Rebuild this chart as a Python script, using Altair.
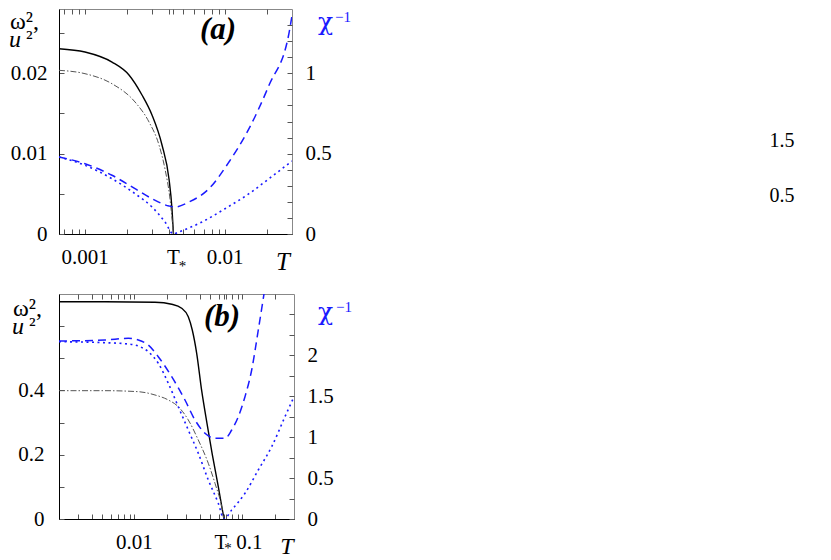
import altair as alt
import pandas as pd

FONT = "Liberation Serif"
BLUE = "#1a1aff"

# ---------------- panel (a) data ----------------
A_T_STAR = 0.00427
A_T_SOLID = [0.00065, 0.000997, 0.001554, 0.002055, 0.002545, 0.003, 0.003537, 0.003968, 0.004169, 0.00427]
A_W2_SOLID = [0.02306, 0.02265, 0.0214, 0.01979, 0.0173, 0.01481, 0.01108, 0.00684, 0.00311, 0.0]
A_T_DASHDOT = [0.00065, 0.000997, 0.001554, 0.002269, 0.002856, 0.003366, 0.003715, 0.004034, 0.00427]
A_U2_DASHDOT = [0.02037, 0.01995, 0.0187, 0.01643, 0.01394, 0.01108, 0.00809, 0.00436, 0.0]
A_T_DASHED = [0.00065, 0.000997, 0.001554, 0.002269, 0.003, 0.003968, 0.004381, 0.005514, 0.007659,
              0.01064, 0.01479, 0.02055, 0.02856, 0.0300]
A_CHI_DASHED = [0.479, 0.4375, 0.3653, 0.2819, 0.2197, 0.1742, 0.168, 0.1991, 0.2819,
                0.448, 0.6553, 0.9253, 1.25, 1.36]
A_T_DOTTED = [0.00065, 0.000997, 0.001554, 0.002269, 0.003, 0.003715, 0.00427, 0.004655, 0.006829,
              0.009968, 0.01479, 0.02055, 0.0300]
A_CHI_DOTTED = [0.479, 0.4275, 0.3441, 0.2508, 0.168, 0.0747, 0.0, 0.0124, 0.0747,
                0.1574, 0.2508, 0.3441, 0.454]
A_XTICKS = [0.0007, 0.0008, 0.0009, 0.001, 0.002, 0.003, 0.004, 0.005, 0.006, 0.007, 0.008, 0.009,
            0.01, 0.02, A_T_STAR]
A_YL_TICKS = [0, 0.005, 0.01, 0.015, 0.02, 0.025]
A_YR_TICKS = [0, 0.1, 0.2, 0.3, 0.4, 0.5, 0.6, 0.7, 0.8, 0.9, 1.0, 1.1, 1.2, 1.3]
A_XLAB_T = [0.001, 0.01]
A_XLAB_TEXT = ["0.001", "0.01"]

# ---------------- panel (b) data ----------------
B_T_STAR = 0.0674
B_T_SOLID = [0.002, 0.005332, 0.01549, 0.02211, 0.02736, 0.0315, 0.03429, 0.03767, 0.04191,
             0.04692, 0.05252, 0.0597, 0.0674]
B_W2_SOLID = [0.6761, 0.6761, 0.6742, 0.668, 0.6556, 0.6294, 0.588, 0.5156, 0.3992,
              0.2978, 0.2013, 0.1005, 0.0]
B_T_DASHDOT = [0.002, 0.005332, 0.01085, 0.01549, 0.02056, 0.02544, 0.0315, 0.03898, 0.04824,
               0.05565, 0.06419, 0.0674]
B_U2_DASHDOT = [0.3992, 0.3992, 0.3961, 0.3858, 0.3703, 0.3494, 0.3081, 0.2458, 0.1733,
                0.1111, 0.0383, 0.0]
B_T_DASHED = [0.002, 0.005332, 0.008766, 0.01085, 0.01342, 0.01661, 0.02211, 0.02935, 0.03634,
              0.04497, 0.05565, 0.06887, 0.07945, 0.09146, 0.1055, 0.1217, 0.1401, 0.1582]
B_CHI_DASHED = [2.1755, 2.1877, 2.2085, 2.1877, 2.1266, 1.9836, 1.7392, 1.4544, 1.21,
                1.0474, 0.9863, 0.9863, 1.0877, 1.2503, 1.4947, 1.8211, 2.31, 2.75]
B_T_DOTTED = [0.002, 0.005332, 0.008766, 0.01085, 0.01342, 0.01661, 0.02056, 0.02544, 0.0315,
              0.03898, 0.04824, 0.0597, 0.0674, 0.07945, 0.1055, 0.1401, 0.1864, 0.2475, 0.3]
B_CHI_DOTTED = [2.167, 2.1547, 2.1388, 2.1144, 2.0447, 1.903, 1.6585, 1.3725, 1.0878,
                0.803, 0.4767, 0.1919, 0.0, 0.11, 0.3141, 0.5989, 0.8836, 1.2503, 1.4947]
B_XTICKS = [0.003, 0.004, 0.005, 0.006, 0.007, 0.008, 0.009, 0.01, 0.02, 0.03, 0.04, 0.05,
            0.06, 0.07, 0.08, 0.09, 0.1, 0.2, B_T_STAR]
B_YL_TICKS = [0, 0.1, 0.2, 0.3, 0.4, 0.5, 0.6]
B_YR_TICKS = [0, 0.25, 0.5, 0.75, 1.0, 1.25, 1.5, 1.75, 2.0, 2.25, 2.5]
B_XLAB_T = [0.01]
B_XLAB_TEXT = ["0.01"]

ONE = pd.DataFrame({"k": [0]})


def frame(T, v):
    return pd.DataFrame({"T": T, "v": v})


def note(text, x, y, size, color="black", style="normal", weight="normal",
         align="left", baseline="alphabetic", font=FONT):
    return alt.Chart(ONE).mark_text(
        text=text, font=font, fontSize=size, fontStyle=style, fontWeight=weight,
        color=color, align=align, baseline=baseline
    ).encode(x=alt.value(x), y=alt.value(y))


def xnote(xs, Ts, texts, y, size, dx=0, style="normal"):
    return alt.Chart(pd.DataFrame({"T": Ts, "lab": texts})).mark_text(
        font=FONT, fontSize=size, fontStyle=style, dx=dx, align="center",
        baseline="alphabetic", color="black"
    ).encode(x=alt.X("T:Q", scale=xs, axis=None), y=alt.value(y), text="lab:N")


def panel(c):
    W, H = c["w"], 225
    xs = alt.Scale(type="log", domain=c["xdom"], nice=False)
    yl = alt.Scale(domain=[0, c["ylmax"]], nice=False)
    yr = alt.Scale(domain=[0, c["yrmax"]], nice=False)
    common = dict(tickSize=5, offset=-5, domain=False, grid=False, title=None,
                  tickColor="#555", tickWidth=1, labelOverlap=False)
    lab = dict(labelFont=FONT, labelFontSize=21, labelColor="black")
    ax_bottom = alt.Axis(orient="bottom", values=c["xticks"], labels=False, **common)
    ax_top = alt.Axis(orient="top", values=c["xticks"], labels=False, **common)
    ax_left = alt.Axis(orient="left", values=c["ylticks"], labelExpr=c["ylexpr"],
                       labelPadding=c["lpad"], **lab, **common)
    ax_right = alt.Axis(orient="right", values=c["yrticks"], labelExpr=c["yrexpr"],
                        labelPadding=13, labelAlign="left", **lab, **common)
    ax_left_dom = alt.Axis(orient="left", domain=True, domainColor="black", domainWidth=1,
                           ticks=False, labels=False, grid=False, title=None)
    ax_bottom_dom = alt.Axis(orient="bottom", domain=True, domainColor="black", domainWidth=1,
                             ticks=False, labels=False, grid=False, title=None)

    solid = alt.Chart(frame(c["t_solid"], c["v_solid"])).mark_line(
        color="black", strokeWidth=1.4, clip=True, interpolate="monotone"
    ).encode(x=alt.X("T:Q", scale=xs, axis=ax_bottom), y=alt.Y("v:Q", scale=yl, axis=ax_left))
    dashdot = alt.Chart(frame(c["t_dd"], c["v_dd"])).mark_line(
        color="#555", strokeWidth=1, strokeDash=[6, 2, 1.5, 2], clip=True, interpolate="monotone"
    ).encode(x=alt.X("T:Q", scale=xs, axis=None), y=alt.Y("v:Q", scale=yl, axis=ax_left_dom))
    dashed = alt.Chart(frame(c["t_dash"], c["v_dash"])).mark_line(
        color=BLUE, strokeWidth=1.5, strokeDash=[8, 5], clip=True, interpolate="monotone"
    ).encode(x=alt.X("T:Q", scale=xs, axis=ax_top), y=alt.Y("v:Q", scale=yr, axis=ax_right))
    dotted = alt.Chart(frame(c["t_dot"], c["v_dot"])).mark_line(
        color=BLUE, strokeWidth=1.6, strokeDash=[2, 3.5], clip=True, interpolate="monotone"
    ).encode(x=alt.X("T:Q", scale=xs, axis=ax_bottom_dom), y=alt.Y("v:Q", scale=yr, axis=None))

    layers = [solid, dashdot, dashed, dotted]
    layers += c["extra"](xs, W, H)
    return alt.layer(*layers).properties(width=W, height=H).resolve_scale(
        y="independent").resolve_axis(x="independent", y="independent")


def extra_a(xs, W, H):
    return [
        xnote(xs, A_XLAB_T, A_XLAB_TEXT, H + 30, 21),
        xnote(xs, [A_T_STAR], ["T"], H + 30, 21),
        xnote(xs, [A_T_STAR], ["*"], H + 37, 15, dx=9),
        note("T", W - 9, H + 36, 25, style="italic", align="center"),
        note("(a)", 159, 30, 31, style="italic", weight="bold", align="center"),
        note("\u03c9\u00b2,", -49, 20, 24),
        note("u", -50, 38, 24, style="italic"),
        note("\u00b2", -33, 36, 22),
        note("\u03c7", W + 26, 21, 25, color=BLUE, font="DejaVu Serif"),
        note("\u22121", W + 43, 13, 15, color=BLUE),
        note("1.5", 723, 132, 20, align="center", baseline="middle"),
        note("0.5", 723, 187, 20, align="center", baseline="middle"),
    ]


def extra_b(xs, W, H):
    return [
        xnote(xs, B_XLAB_T, B_XLAB_TEXT, H + 30, 21),
        xnote(xs, [B_T_STAR], ["T"], H + 30, 21, dx=-3),
        xnote(xs, [B_T_STAR], ["*"], H + 34, 15, dx=4),
        xnote(xs, [0.1], ["0.1"], H + 30, 21, dx=7),
        note("T", W - 7, H + 35, 24, style="italic", align="center"),
        note("(b)", 163, 32, 31, style="italic", weight="bold", align="center"),
        note("\u03c9\u00b2,", -46, 22, 24),
        note("u", -47, 40, 24, style="italic"),
        note("\u00b2", -30, 38, 22),
        note("\u03c7", W + 24, 26, 25, color=BLUE, font="DejaVu Serif"),
        note("\u22121", W + 42, 18, 15, color=BLUE),
    ]


cfg_a = dict(
    w=233, xdom=[0.00065, 0.03], ylmax=0.028, yrmax=1.4,
    xticks=A_XTICKS, ylticks=A_YL_TICKS, yrticks=A_YR_TICKS,
    ylexpr="abs(datum.value*100 - round(datum.value*100)) < 1e-6 ? format(datum.value, '~g') : ''",
    yrexpr="abs(datum.value*2 - round(datum.value*2)) < 1e-6 ? format(datum.value, '~g') : ''",
    lpad=12,
    t_solid=A_T_SOLID, v_solid=A_W2_SOLID, t_dd=A_T_DASHDOT, v_dd=A_U2_DASHDOT,
    t_dash=A_T_DASHED, v_dash=A_CHI_DASHED, t_dot=A_T_DOTTED, v_dot=A_CHI_DOTTED,
    extra=extra_a,
)
cfg_b = dict(
    w=235, xdom=[0.002, 0.3], ylmax=0.7, yrmax=2.75,
    xticks=B_XTICKS, ylticks=B_YL_TICKS, yrticks=B_YR_TICKS,
    ylexpr="(datum.value < 0.45 && abs(datum.value*5 - round(datum.value*5)) < 1e-6) ? format(datum.value, '~g') : ''",
    yrexpr="(datum.value < 2.2 && abs(datum.value*2 - round(datum.value*2)) < 1e-6) ? format(datum.value, '~g') : ''",
    lpad=15,
    t_solid=B_T_SOLID, v_solid=B_W2_SOLID, t_dd=B_T_DASHDOT, v_dd=B_U2_DASHDOT,
    t_dash=B_T_DASHED, v_dash=B_CHI_DASHED, t_dot=B_T_DOTTED, v_dot=B_CHI_DOTTED,
    extra=extra_b,
)

chart = alt.vconcat(panel(cfg_a), panel(cfg_b), spacing=17).properties(
    padding=0
).configure_view(stroke="#888", strokeWidth=1)

chart.save("out.html", embed_options={"renderer": "svg", "actions": False})
